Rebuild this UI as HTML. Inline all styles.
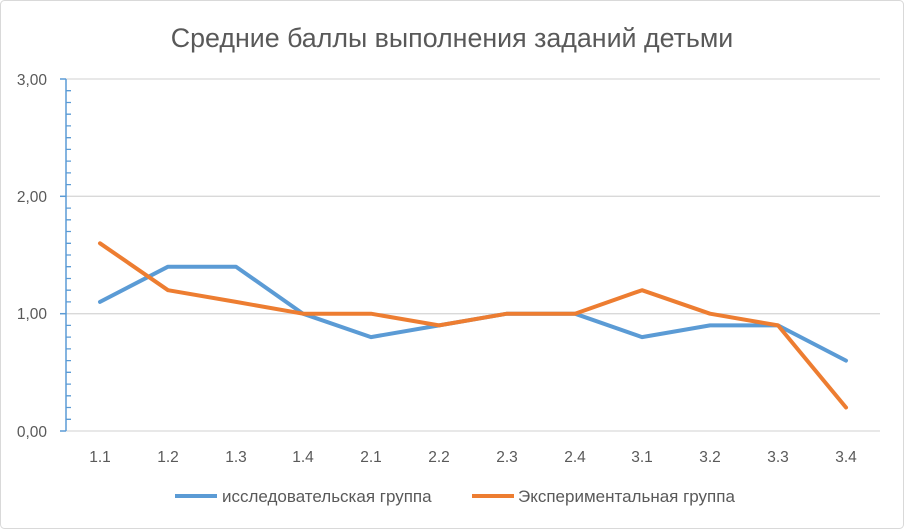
<!DOCTYPE html>
<html><head><meta charset="utf-8"><style>
body{margin:0;background:#fff;}
svg{display:block;font-family:"Liberation Sans","DejaVu Sans",sans-serif;}
</style></head><body>
<svg width="904" height="529" viewBox="0 0 904 529" xmlns="http://www.w3.org/2000/svg">
<rect x="0.5" y="0.5" width="903" height="528" rx="4" fill="#fff" stroke="#d9d9d9"/>
<text x="452" y="47" text-anchor="middle" font-size="26.8" fill="#595959">Средние баллы выполнения заданий детьми</text>
<g stroke="#d9d9d9" stroke-width="1.3">
<line x1="66" y1="79" x2="880" y2="79"/>
<line x1="66" y1="196.3" x2="880" y2="196.3"/>
<line x1="66" y1="313.7" x2="880" y2="313.7"/>
<line x1="66" y1="431" x2="880" y2="431"/>
</g>
<g font-size="15.5" fill="#595959" text-anchor="end">
<text x="47" y="85">3,00</text>
<text x="47" y="202">2,00</text>
<text x="47" y="319">1,00</text>
<text x="47" y="437">0,00</text>
</g>
<g stroke="#5b9bd5" stroke-width="1.5">
<line x1="66" y1="79" x2="66" y2="431"/>
<line x1="60" y1="79" x2="66" y2="79"/>
<line x1="60" y1="196.3" x2="66" y2="196.3"/>
<line x1="60" y1="313.7" x2="66" y2="313.7"/>
<line x1="60" y1="431" x2="66" y2="431"/>
</g>
<g stroke="#5b9bd5" stroke-width="1.3">
<path d="M66 90.7h5M66 102.5h5M66 114.2h5M66 125.9h5M66 137.7h5M66 149.4h5M66 161.1h5M66 172.9h5M66 184.6h5
M66 208.1h5M66 219.8h5M66 231.5h5M66 243.3h5M66 255h5M66 266.7h5M66 278.5h5M66 290.2h5M66 301.9h5
M66 325.4h5M66 337.1h5M66 348.9h5M66 360.6h5M66 372.3h5M66 384.1h5M66 395.8h5M66 407.5h5M66 419.3h5"/>
</g>
<g font-size="15.5" fill="#595959" text-anchor="middle">
<text x="100" y="462">1.1</text><text x="168" y="462">1.2</text><text x="236" y="462">1.3</text><text x="303" y="462">1.4</text>
<text x="371" y="462">2.1</text><text x="439" y="462">2.2</text><text x="507" y="462">2.3</text><text x="575" y="462">2.4</text>
<text x="642" y="462">3.1</text><text x="710" y="462">3.2</text><text x="778" y="462">3.3</text><text x="846" y="462">3.4</text>
</g>
<polyline fill="none" stroke="#5b9bd5" stroke-width="4" stroke-linejoin="round" stroke-linecap="round"
points="100,301.9 168,266.7 236,266.7 303,313.7 371,337.1 439,325.4 507,313.7 575,313.7 642,337.1 710,325.4 778,325.4 846,360.6"/>
<polyline fill="none" stroke="#ed7d31" stroke-width="4" stroke-linejoin="round" stroke-linecap="round"
points="100,243.3 168,290.2 236,301.9 303,313.7 371,313.7 439,325.4 507,313.7 575,313.7 642,290.2 710,313.7 778,325.4 846,407.5"/>
<line x1="175" y1="496" x2="217" y2="496" stroke="#5b9bd5" stroke-width="4"/>
<text x="222" y="502" font-size="17" fill="#595959">исследовательская группа</text>
<line x1="472" y1="496" x2="514" y2="496" stroke="#ed7d31" stroke-width="4"/>
<text x="518" y="502" font-size="17" fill="#595959">Экспериментальная группа</text>
</svg>
</body></html>
